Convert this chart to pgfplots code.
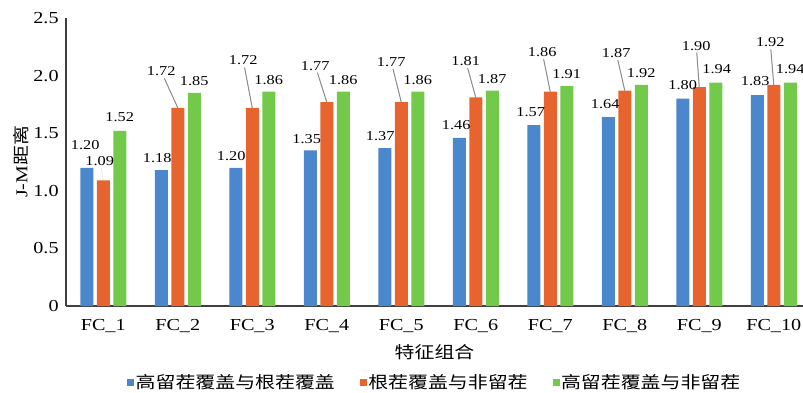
\documentclass[border=0pt]{standalone}
\usepackage{pgfplots}
\pgfplotsset{compat=1.18}
\usepackage{fontspec}
\setmainfont{Liberation Serif}[FakeStretch=1.2]
\newfontfamily\cjk{Noto Sans CJK SC}[FakeStretch=1.2]

\definecolor{cBlue}{HTML}{4A87CC}
\definecolor{cOrange}{HTML}{E8642E}
\definecolor{cGreen}{HTML}{72C94A}
\definecolor{cAxis}{HTML}{3F3F3F}
\definecolor{cLead}{HTML}{8C8C8C}

% label offsets from the bar top, per category (units of 0.5pt)
\def\blueDX{{-1.5,-4,-4.5,-3.5,-4.5,-3,-3,-3,0,-2}}
\def\blueUP{{23,12,12,11.5,12,13,13,13,14,14}}
\def\greenDX{{0,0,0,0,0,0,0,0,1,0}}
\def\greenUP{{14,12,12,12,12,12,12,12,13.5,13}}
% orange labels hang on leader lines: angle (deg), distance (pt), line opacity
\def\orgAng{{105.8,119.3,102.6,111.4,106.7,108.8,103.9,105.6,95.0,95.6}}
\def\orgDist{{6.4,16.9,20.7,15.8,17.4,15.5,16.7,15.8,17.3,17.8}}
\def\orgOp{{0,1,1,1,1,1,1,1,1,1}}

\newcommand\lblfont{\fontsize{6.8}{8}\selectfont}

\begin{document}
\begin{tikzpicture}
\useasboundingbox (-33pt,-43pt) rectangle (368.5pt,153pt);
\begin{axis}[
  at={(0,0)}, anchor=south west,
  x=37.25pt, y=57.6pt,
  xmin=-0.5, xmax=9.393, ymin=0, ymax=2.5,
  clip=false,
  axis x line*=bottom, axis y line*=left,
  axis line style={cAxis, line width=0.7pt, -},
  major tick length=0pt,
  xtick={0,...,9},
  xticklabels={FC\_1,FC\_2,FC\_3,FC\_4,FC\_5,FC\_6,FC\_7,FC\_8,FC\_9,FC\_10},
  ytick={0,0.5,1,1.5,2,2.5},
  yticklabels={0,0.5,1.0,1.5,2.0,2.5},
  /pgf/number format/assume math mode=true,
  tick label style={font=\fontsize{8.4}{10}\selectfont},
  xticklabel style={anchor=center, yshift=-10pt, inner sep=0pt},
  yticklabel style={anchor=east, inner sep=0pt, xshift=-3.5pt},
  xlabel={\cjk 特征组合},
  xlabel style={at={(axis description cs:0.5,-0.16)}, anchor=center, font=\fontsize{8.3}{10}\selectfont},
  ylabel={J-M{\cjk 距离}},
  ylabel style={at={(axis description cs:-0.061,0.5)}, anchor=center, font=\fontsize{8.3}{10}\selectfont},
  ybar, bar width=6.5pt,
  visualization depends on={rawx \as \xi},
  legend columns=3,
  legend style={at={(axis description cs:0.5,-0.267)}, anchor=center, draw=none,
    font=\cjk\fontsize{8.3}{10}\selectfont, nodes={inner sep=0.6pt},
    /tikz/every even column/.append style={column sep=12pt}},
  legend image code/.code={\fill[#1] (0pt,-1.75pt) rectangle (3.5pt,1.75pt);},
]
\addplot[fill=cBlue, draw=none, bar shift=-8.25pt,
  nodes near coords={\pgfmathprintnumber[fixed,fixed zerofill,precision=2]{\pgfplotspointmeta}},
  every node near coord/.append style={font=\lblfont, text=black, anchor=center, inner sep=0pt,
    xshift={0.5pt*\blueDX[int(\xi)]}, yshift={0.5pt*\blueUP[int(\xi)]}}]
  coordinates {(0,1.20) (1,1.18) (2,1.20) (3,1.35) (4,1.37) (5,1.46) (6,1.57) (7,1.64) (8,1.80) (9,1.83)};
\addlegendentry{高留茬覆盖与根茬覆盖}
\addplot[fill=cOrange, draw=none, bar shift=0pt,
  nodes near coords={\relax},
  every node near coord/.append style={inner sep=0pt, outer sep=0pt, minimum size=0pt, anchor=center,
    /utils/exec={%
      \pgfmathsetmacro\tmpA{\orgAng[int(\xi)]}\global\let\pinang\tmpA
      \pgfmathsetmacro\tmpD{\orgDist[int(\xi)]}\global\let\pindist\tmpD
      \pgfmathsetmacro\tmpO{\orgOp[int(\xi)]}\global\let\pinop\tmpO},
    pin={[pin distance=\pindist pt, anchor=south, inner sep=1pt, font=\lblfont, text=black,
      pin edge={cLead, line width=0.5pt, draw opacity=\pinop}]\pinang:\pgfmathprintnumber[fixed,fixed zerofill,precision=2]{\pgfplotspointmeta}}}]
  coordinates {(0,1.09) (1,1.72) (2,1.72) (3,1.77) (4,1.77) (5,1.81) (6,1.86) (7,1.87) (8,1.90) (9,1.92)};
\addlegendentry{根茬覆盖与非留茬}
\addplot[fill=cGreen, draw=none, bar shift=8.25pt,
  nodes near coords={\pgfmathprintnumber[fixed,fixed zerofill,precision=2]{\pgfplotspointmeta}},
  every node near coord/.append style={font=\lblfont, text=black, anchor=center, inner sep=0pt,
    xshift={0.5pt*\greenDX[int(\xi)]}, yshift={0.5pt*\greenUP[int(\xi)]}}]
  coordinates {(0,1.52) (1,1.85) (2,1.86) (3,1.86) (4,1.86) (5,1.87) (6,1.91) (7,1.92) (8,1.94) (9,1.94)};
\addlegendentry{高留茬覆盖与非留茬}
\end{axis}
\end{tikzpicture}
\end{document}
